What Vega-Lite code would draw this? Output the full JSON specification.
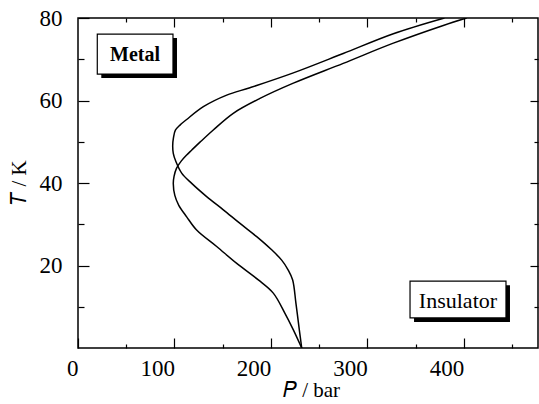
{
  "$schema": "https://vega.github.io/schema/vega-lite/v6.json",
  "width": 460,
  "height": 330,
  "autosize": {"type": "none"},
  "padding": {"left": 78, "top": 18, "right": 1, "bottom": 56},
  "background": "white",
  "config": {
    "view": {"stroke": "black", "strokeWidth": 1.5},
    "font": "Liberation Serif",
    "axis": {
      "grid": false,
      "domain": false,
      "tickColor": "black",
      "tickWidth": 1.2,
      "labelColor": "black",
      "labelFont": "Liberation Serif",
      "labelFontSize": 23,
      "titleFont": "Liberation Serif",
      "titleFontSize": 21,
      "titleFontWeight": "normal",
      "titleColor": "black"
    }
  },
  "datasets": {
    "curves": [
      {"c": "A", "i": 0, "P": 232, "T": 0},
      {"c": "A", "i": 1, "P": 229.5, "T": 4.4},
      {"c": "A", "i": 2, "P": 226, "T": 10.8},
      {"c": "A", "i": 3, "P": 222.6, "T": 16.5},
      {"c": "A", "i": 4, "P": 218, "T": 18.9},
      {"c": "A", "i": 5, "P": 211.2, "T": 21.3},
      {"c": "A", "i": 6, "P": 200.8, "T": 23.8},
      {"c": "A", "i": 7, "P": 185.3, "T": 27},
      {"c": "A", "i": 8, "P": 168, "T": 30.2},
      {"c": "A", "i": 9, "P": 150.7, "T": 33.5},
      {"c": "A", "i": 10, "P": 133.4, "T": 36.7},
      {"c": "A", "i": 11, "P": 117.9, "T": 39.9},
      {"c": "A", "i": 12, "P": 107.5, "T": 42.4},
      {"c": "A", "i": 13, "P": 101.5, "T": 45.2},
      {"c": "A", "i": 14, "P": 98.8, "T": 47.2},
      {"c": "A", "i": 15, "P": 98.2, "T": 49},
      {"c": "A", "i": 16, "P": 99, "T": 51},
      {"c": "A", "i": 17, "P": 101, "T": 52.8},
      {"c": "A", "i": 18, "P": 106, "T": 54.1},
      {"c": "A", "i": 19, "P": 112.7, "T": 55.4},
      {"c": "A", "i": 20, "P": 130, "T": 58.5},
      {"c": "A", "i": 21, "P": 154.2, "T": 61.3},
      {"c": "A", "i": 22, "P": 178.3, "T": 63.1},
      {"c": "A", "i": 23, "P": 223.3, "T": 66.7},
      {"c": "A", "i": 24, "P": 275, "T": 71.4},
      {"c": "A", "i": 25, "P": 327, "T": 76.2},
      {"c": "A", "i": 26, "P": 380, "T": 80},
      {"c": "B", "i": 0, "P": 232, "T": 0},
      {"c": "B", "i": 1, "P": 223.3, "T": 4.4},
      {"c": "B", "i": 2, "P": 214.6, "T": 8.4},
      {"c": "B", "i": 3, "P": 202.5, "T": 13.3},
      {"c": "B", "i": 4, "P": 187, "T": 16.5},
      {"c": "B", "i": 5, "P": 164.6, "T": 20.5},
      {"c": "B", "i": 6, "P": 143.8, "T": 24.6},
      {"c": "B", "i": 7, "P": 123, "T": 28.6},
      {"c": "B", "i": 8, "P": 112.7, "T": 31.8},
      {"c": "B", "i": 9, "P": 104.5, "T": 34.6},
      {"c": "B", "i": 10, "P": 100.4, "T": 37},
      {"c": "B", "i": 11, "P": 98.8, "T": 39.9},
      {"c": "B", "i": 12, "P": 99.6, "T": 41.6},
      {"c": "B", "i": 13, "P": 102, "T": 43.5},
      {"c": "B", "i": 14, "P": 107, "T": 45.3},
      {"c": "B", "i": 15, "P": 112.7, "T": 46.8},
      {"c": "B", "i": 16, "P": 118, "T": 48},
      {"c": "B", "i": 17, "P": 126.5, "T": 49.9},
      {"c": "B", "i": 18, "P": 140, "T": 52.8},
      {"c": "B", "i": 19, "P": 161, "T": 56.9},
      {"c": "B", "i": 20, "P": 188.7, "T": 60.5},
      {"c": "B", "i": 21, "P": 223.3, "T": 64.2},
      {"c": "B", "i": 22, "P": 275, "T": 69},
      {"c": "B", "i": 23, "P": 327, "T": 73.9},
      {"c": "B", "i": 24, "P": 378.8, "T": 78.2},
      {"c": "B", "i": 25, "P": 403, "T": 80}
    ],
    "boxes": [
      {"label": "Metal", "P1": 20, "P2": 98.5, "T1": 66.4, "T2": 76.1, "Pc": 59.2, "Tc": 71.2},
      {"label": "Insulator", "P1": 344.3, "P2": 443.8, "T1": 7.3, "T2": 16.2, "Pc": 394, "Tc": 11.7}
    ]
  },
  "layer": [
    {
      "data": {"name": "boxes"},
      "mark": {"type": "rect", "color": "black", "xOffset": 4, "x2Offset": 4, "yOffset": 4, "y2Offset": 4},
      "encoding": {
        "x": {"field": "P1", "type": "quantitative", "scale": {"domain": [0, 477]}, "axis": null},
        "x2": {"field": "P2"},
        "y": {"field": "T1", "type": "quantitative", "scale": {"domain": [0, 80]}, "axis": null},
        "y2": {"field": "T2"}
      }
    },
    {
      "data": {"name": "boxes"},
      "mark": {"type": "rect", "fill": "white", "stroke": "black", "strokeWidth": 1.2},
      "encoding": {
        "x": {"field": "P1", "type": "quantitative", "scale": {"domain": [0, 477]}, "axis": null},
        "x2": {"field": "P2"},
        "y": {"field": "T1", "type": "quantitative", "scale": {"domain": [0, 80]}, "axis": null},
        "y2": {"field": "T2"}
      }
    },
    {
      "data": {"name": "boxes"},
      "transform": [{"filter": "datum.label === 'Metal'"}],
      "mark": {"type": "text", "font": "Liberation Serif", "fontSize": 20, "fontWeight": "bold", "color": "black", "align": "center", "baseline": "middle", "dy": 1},
      "encoding": {
        "x": {"field": "Pc", "type": "quantitative", "scale": {"domain": [0, 477]},
          "axis": {"orient": "top", "title": null, "labels": false,
            "values": [50, 100, 150, 200, 250, 300, 350, 400, 450],
            "tickSize": {"condition": {"test": "datum.value % 100 === 0", "value": -9}, "value": -4}}},
        "y": {"field": "Tc", "type": "quantitative", "scale": {"domain": [0, 80]},
          "axis": {"orient": "right", "title": null, "labels": false,
            "values": [10, 20, 30, 40, 50, 60, 70],
            "tickSize": {"condition": {"test": "datum.value % 20 === 0", "value": -8}, "value": -4}}},
        "text": {"field": "label"}
      }
    },
    {
      "data": {"name": "boxes"},
      "transform": [{"filter": "datum.label === 'Insulator'"}],
      "mark": {"type": "text", "font": "Liberation Serif", "fontSize": 22, "fontWeight": "normal", "color": "black", "align": "center", "baseline": "middle", "dy": 1},
      "encoding": {
        "x": {"field": "Pc", "type": "quantitative", "scale": {"domain": [0, 477]}, "axis": null},
        "y": {"field": "Tc", "type": "quantitative", "scale": {"domain": [0, 80]}, "axis": null},
        "text": {"field": "label"}
      }
    },
    {
      "data": {"name": "curves"},
      "mark": {"type": "line", "interpolate": "catmull-rom", "color": "black", "strokeWidth": 1.5, "clip": true},
      "encoding": {
        "x": {"field": "P", "type": "quantitative", "scale": {"domain": [0, 477]},
          "axis": {"orient": "bottom", "title": "𝑃 / bar",
            "values": [0, 50, 100, 150, 200, 250, 300, 350, 400, 450],
            "labelExpr": "datum.value % 100 === 0 ? datum.label : ''",
            "labelAlign": "right", "labelPadding": 19, "labelBaseline": "top",
            "tickSize": {"condition": {"test": "datum.value % 100 === 0", "value": -10}, "value": -4},
            "titleX": 233, "titleY": 48, "titleAlign": "center", "titleBaseline": "alphabetic"}},
        "y": {"field": "T", "type": "quantitative", "scale": {"domain": [0, 80]},
          "axis": {"orient": "left", "title": "𝑇 / K",
            "values": [10, 20, 30, 40, 50, 60, 70, 80],
            "labelExpr": "datum.value % 20 === 0 ? datum.label : ''",
            "labelPadding": 27,
            "tickSize": {"condition": {"test": "datum.value % 20 === 0", "value": -11}, "value": -6},
            "titleX": -59, "titleY": 164, "titleAngle": -90, "titleAlign": "center", "titleBaseline": "middle"}},
        "detail": {"field": "c", "type": "nominal"},
        "order": {"field": "i", "type": "quantitative"}
      }
    }
  ],
  "resolve": {"axis": {"x": "independent", "y": "independent"}}
}
